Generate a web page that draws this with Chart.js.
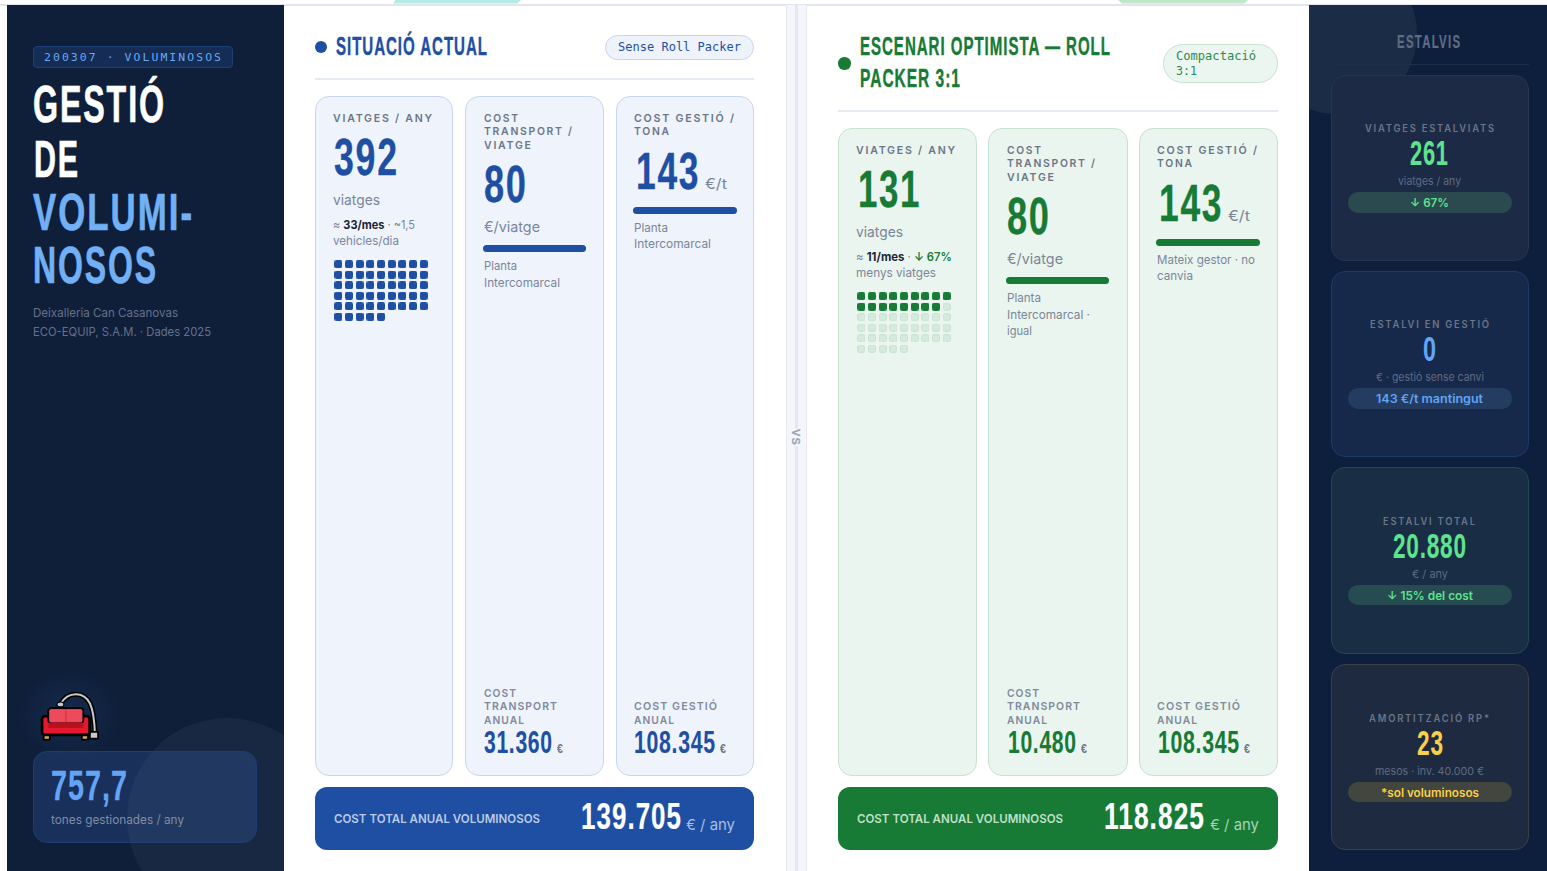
<!DOCTYPE html>
<html lang="ca">
<head>
<meta charset="utf-8">
<title>Gestió de voluminosos</title>
<script src="https://cdn.jsdelivr.net/npm/chart.js@4"></script>
<style>
  @font-face {
    font-family: "Cond";
    src: local("Liberation Sans Narrow Bold"), local("LiberationSansNarrow-Bold");
    font-weight: 700;
    ascent-override: 75%;
    descent-override: 5%;
    line-gap-override: 0%;
  }
  html, body { margin: 0; padding: 0; background: #fff; overflow: hidden; }
  #root { position: relative; width: 1547px; height: 871px; overflow: hidden; }
  .box { position: absolute; box-sizing: border-box; }
  .t { position: absolute; white-space: nowrap; line-height: 1; transform-origin: 0 0; }
  canvas { position: absolute; display: block; }
  canvas.pill { border-radius: 3.5px; }
  b { font-weight: 700; color: #1a2433; }
</style>
</head>
<body>
<div id="root"></div>
<script>
// dades
const trips = [392, 131];
const tripsPerMonth = [33, 11];
const transportPerTrip = [80, 80];
const managementPerTon = [143, 143];
const transportAnnual = [31360, 10480];
const managementAnnual = [108345, 108345];
const totalAnnual = [139705, 118825];
const tonsPerYear = '757,7';

// pictograma: files de caselles i caselles plenes per escenari
const waffleRows = [9, 9, 9, 9, 9, 5];
const waffleFilled = [50, 17];

const savedTrips = 261;
const savedManagement = 0;
const savedTotal = 20880;
const paybackMonths = 23;

const SANS = 'Inter, "DM Sans", sans-serif';
const NARROW = '"Cond", "Liberation Sans Narrow", sans-serif';
const MONO = '"DejaVu Sans Mono", monospace';

const root = document.getElementById('root');
const fmt = n => n.toLocaleString('de-DE');

// caixa absoluta
function box(x, y, w, h, css, parent) {
  const el = document.createElement('div');
  el.className = 'box';
  el.style.cssText = `left:${x}px;top:${y}px;width:${w}px;height:${h}px;${css || ''}`;
  (parent || root).appendChild(el);
  return el;
}

// text col·locat per la línia base, i ajustat a l'amplada w si se'n dona
function txt(x, base, html, o) {
  const el = document.createElement('div');
  el.className = 't';
  el.style.left = (o.f ? x : x - 0.5) + 'px';
  el.style.top = '0px';
  el.style.font = `${o.b || 400} ${o.s}px ${o.f || SANS}`;
  el.style.lineHeight = o.f === NARROW ? '0.8' : '1';
  el.style.color = o.c;
  if (o.ls) el.style.letterSpacing = o.ls + 'px';
  if (o.st) el.style.webkitTextStroke = `${o.st}px ${o.c}`;
  el.innerHTML = html;
  root.appendChild(el);

  const strut = document.createElement('span');
  strut.style.cssText = 'display:inline-block;width:0;height:0;vertical-align:baseline';
  el.appendChild(strut);
  el.style.top = (base - strut.getBoundingClientRect().bottom) + 'px';
  el.removeChild(strut);

  if (o.w) {
    const natural = el.getBoundingClientRect().width - (o.ls || 0);
    el.style.transform = `scaleX(${o.w / natural})`;
  }
  return el;
}

function canvasAt(x, y, w, h) {
  const c = document.createElement('canvas');
  c.width = w;
  c.height = h;
  c.style.left = x + 'px';
  c.style.top = y + 'px';
  root.appendChild(c);
  return c;
}

const baseOptions = {
  responsive: false,
  animation: false,
  events: [],
  layout: { padding: 0, autoPadding: false },
  plugins: { legend: { display: false }, tooltip: { enabled: false } }
};

// barra de progrés
function progressBar(x, y, w, h, label, value, max, color) {
  const c = canvasAt(x, y, w, h);
  c.className = 'pill';
  new Chart(c, {
    type: 'bar',
    data: {
      labels: [label],
      datasets: [{
        data: [value],
        backgroundColor: color,
        borderRadius: 3.5,
        borderSkipped: false,
        barPercentage: 1,
        categoryPercentage: 1
      }]
    },
    options: {
      ...baseOptions,
      indexAxis: 'y',
      scales: {
        x: { display: false, min: 0, max: max },
        y: { display: false }
      }
    }
  });
}

// casella del pictograma, com a imatge de punt
function cellSprite(fill, stroke) {
  const c = document.createElement('canvas');
  c.width = 8;
  c.height = 8;
  const g = c.getContext('2d');
  g.beginPath();
  g.roundRect(stroke ? 0.5 : 0, stroke ? 0.5 : 0, stroke ? 7 : 8, stroke ? 7 : 8, 2);
  g.fillStyle = fill;
  g.fill();
  if (stroke) {
    g.strokeStyle = stroke;
    g.stroke();
  }
  return c;
}

// pictograma de viatges
function waffle(x, y, filled, color, emptyFill, emptyBorder) {
  const on = [], off = [];
  let n = 0;
  waffleRows.forEach((cols, row) => {
    for (let col = 0; col < cols; col++) {
      (n < filled ? on : off).push({ x: col, y: row });
      n++;
    }
  });
  new Chart(canvasAt(x, y, 96, 63), {
    type: 'scatter',
    data: {
      datasets: [
        { data: on, pointStyle: cellSprite(color), pointRadius: 5 },
        { data: off, pointStyle: cellSprite(emptyFill, emptyBorder), pointRadius: 5 }
      ]
    },
    options: {
      ...baseOptions,
      scales: {
        x: { display: false, min: -0.5, max: 8.5 },
        y: { display: false, min: -0.5, max: 5.5, reverse: true }
      }
    }
  });
}

const themes = [
  { main: '#1e4fa3', card: '#eef3fc', line: '#c8d6ee', pill: '#eef3fb', pillLine: '#c5d5ee', pillText: '#1e4fa3', soft: '#b9cbe9', unit: '#a9bddf', empty: '#d6ebdd', emptyLine: '#c4e2cf' },
  { main: '#177a35', card: '#eaf5ef', line: '#c6e3d0', pill: '#ecf6f0', pillLine: '#c5e4cf', pillText: '#2a8a4a', soft: '#bfe0c8', unit: '#a8d2b4', empty: '#d6ebdd', emptyLine: '#c4e2cf' }
];

const GREY = '#6b7688', UNIT = '#7a8699';

function label(x, base, text, w) {
  txt(x, base - 0.7, text, { s: 11, b: 600, c: GREY, ls: 1.8, w: w });
}

function scenario(i, dx, dy) {
  const th = themes[i];
  const cardX = [[315, 138], [465, 139], [616, 138]];
  const topY = 96 + dy;
  cardX.forEach(([x, w]) => {
    box(x + dx, topY, w + i, 776 - topY, `background:${th.card};border:1px solid ${th.line};border-radius:14px`);
  });

  const big = { f: NARROW, b: 700, s: 52, c: th.main, st: 0.3, ls: 2.5 };
  const mid = { f: NARROW, b: 700, s: 31, c: th.main, st: 0.1, ls: 1 };
  const eur = { f: NARROW, b: 700, s: 12, c: GREY };
  const unit = { s: 14.5, c: UNIT };
  const note = { s: 12, c: UNIT };

  // targeta 1
  label(333 + dx, 122.5 + dy, 'VIATGES / ANY', 99);
  txt(i ? 857.5 : 334, 174.5 + dy, String(trips[i]), { ...big, w: i ? 61.5 : 63 });
  txt(333 + dx, 204.5 + dy, 'viatges', { ...unit, w: 47 });
  if (i === 0) {
    txt(333, 229, `≈ <b>${tripsPerMonth[i]}/mes</b> · ~1,5`, { ...note, w: 82 });
    txt(333, 245, 'vehicles/dia', { ...note, w: 66 });
  } else {
    txt(856, 260.5, `≈ <b>${tripsPerMonth[i]}/mes</b> · <span style="color:#177a35;font-weight:600">↓ 67%</span>`, { ...note, w: 96 });
    txt(856, 276.5, 'menys viatges', { ...note, w: 80 });
  }
  waffle(333 + dx, 259 + dy, waffleFilled[i], th.main, th.empty, th.emptyLine);

  // targeta 2
  label(484 + dx, 122.5 + dy, 'COST', 34);
  label(484 + dx, 136 + dy, 'TRANSPORT /', 88);
  label(484 + dx, 149.5 + dy, 'VIATGE', 47);
  txt(484 + dx, 201.5 + dy, String(transportPerTrip[i]), { ...big, w: 42 });
  txt(484 + dx, 232 + dy, '€/viatge', { ...unit, w: 56 });
  progressBar(483 + dx, 245 + dy, 103, 7, 'Cost transport / viatge', transportPerTrip[i], 80, th.main);
  const notes2 = i ? ['Planta', 'Intercomarcal ·', 'igual'] : ['Planta', 'Intercomarcal'];
  const w2 = i ? [34, 83, 25] : [33, 76];
  notes2.forEach((s, k) => txt(484 + dx, 270 + k * 16.5 + dy, s, { ...note, w: w2[k] }));

  // targeta 3
  label(634 + dx, 122.5 + dy, 'COST GESTIÓ /', 100);
  label(634 + dx, 136 + dy, 'TONA', 35);
  txt(635.5 + dx, 188.5 + dy, String(managementPerTon[i]), { ...big, w: 62.5 });
  txt(705 + dx, 189 + dy, '€/t', { ...unit, w: 22 });
  progressBar(633 + dx, 207 + dy, 104, 7, 'Cost gestió / tona', managementPerTon[i], 143, th.main);
  const notes3 = i ? ['Mateix gestor · no', 'canvia'] : ['Planta', 'Intercomarcal'];
  const w3 = i ? [98, 36] : [34, 77];
  notes3.forEach((s, k) => txt(634 + dx, 231.5 + k * 16.2 + dy, s, { ...note, w: w3[k] }));

  // peus de targeta
  const small = { s: 11, b: 600, c: '#7f8a9c', ls: 1.1 };
  txt(484 + dx, 696.7, 'COST', { ...small, w: 32 });
  txt(484 + dx, 710.2, 'TRANSPORT', { ...small, w: 73 });
  txt(484 + dx, 723.7, 'ANUAL', { ...small, w: 40 });
  txt(484 + dx + i, 752.5, fmt(transportAnnual[i]), { ...mid, w: 68 });
  txt(557 + dx + i, 752.5, '€', { ...eur, w: 6 });
  txt(634 + dx, 710.2, 'COST GESTIÓ', { ...small, w: 83 });
  txt(634 + dx, 723.7, 'ANUAL', { ...small, w: 40 });
  txt(634 + dx + i, 752.5, fmt(managementAnnual[i]), { ...mid, w: 81 });
  txt(720 + dx + i, 752.5, '€', { ...eur, w: 6 });

  // total
  box(315 + dx, 787, 439 + i, 63, `background:${th.main};border-radius:12px`);
  txt(334 + dx, 823, 'COST TOTAL ANUAL VOLUMINOSOS', { s: 12, b: 600, c: th.soft, w: 206 });
  txt(i ? 1104 : 580.5, 829, fmt(totalAnnual[i]), { f: NARROW, b: 700, s: 37, c: '#ffffff', w: 100, st: 0.2, ls: 1.5 });
  txt(i ? 1210 : 686, 830, '€ / any', { s: 15, c: th.unit, w: 49 });
}

function saving(y, h, bg, line, title, titleX, titleW, value, valueX, valueW, color, sub, subX, subW, pillBg, pill, pillX, pillW) {
  box(1331, y, 198, h, `background:${bg};border:1px solid ${line};border-radius:14px`);
  txt(titleX, y + 57.5, title, { s: 10, b: 600, c: '#6a7589', ls: 1.9, w: titleW });
  txt(valueX, y + 90.5, value, { f: NARROW, b: 700, s: 35, c: color, w: valueW, st: 0.1, ls: 1.2 });
  txt(subX, y + 110.5, sub, { s: 11, c: '#5e6b83', w: subW });
  box(1348, y + 117.5, 164, 20.5, `background:${pillBg};border-radius:10px`);
  txt(pillX, y + 132.5, pill, { s: 11.5, b: 600, c: color, w: pillW });
}

function render() {
  // fons
  box(0, 4, 1547, 1.5, 'background:#e4e4f0');
  box(393, 0, 128, 3.5, 'background:#b3ebe3;clip-path:polygon(0 100%,2% 0,100% 0,97% 100%)');
  box(1118, 0, 130, 3.5, 'background:#c0e6c8;clip-path:polygon(0 0,100% 0,97% 100%,3% 100%)');

  // panell esquerre
  const left = box(7, 5, 277, 866, 'background:#0f1f3a;overflow:hidden');
  box(120, 713, 200, 200, 'border-radius:50%;background:rgba(255,255,255,0.045)', left);
  box(10, 665, 105, 90, 'background:radial-gradient(closest-side,rgba(60,120,210,0.13),rgba(60,120,210,0))', left);

  box(33, 45.5, 200, 22.5, 'background:#152c55;border:1px solid #1d3f78;border-radius:4px');
  txt(43.5, 61, '200307 · VOLUMINOSOS', { f: MONO, s: 11, c: '#6aa8f0', w: 177, ls: 2 });
  const titleFont = { f: NARROW, b: 700, s: 52, st: 0.7, ls: 3 };
  txt(33, 122, 'GESTIÓ', { ...titleFont, c: '#ffffff', w: 131 });
  txt(34, 177, 'DE', { ...titleFont, c: '#ffffff', w: 44 });
  txt(33, 230, 'VOLUMI-', { ...titleFont, c: '#72b0f6', w: 159 });
  txt(33, 283, 'NOSOS', { ...titleFont, c: '#72b0f6', w: 123 });
  txt(33, 317, 'Deixalleria Can Casanovas', { s: 12, c: '#65718a', w: 145 });
  txt(33, 336, 'ECO-EQUIP, S.A.M. · Dades 2025', { s: 12, c: '#65718a', w: 178 });

  const sofa = document.createElement('div');
  sofa.className = 'box';
  sofa.style.cssText = 'left:33.3px;top:690px;width:67px;height:52px';
  sofa.innerHTML = `<svg width="67" height="52" viewBox="100 60 200 155">
    <path d="M182 102 C205 62 252 64 270 100 C282 125 284 160 285 195" fill="none" stroke="#000" stroke-width="15"/>
    <path d="M182 102 C205 62 252 64 270 100 C282 125 284 160 285 195" fill="none" stroke="#c9c9c9" stroke-width="6"/>
    <ellipse cx="182" cy="103" rx="10" ry="7" fill="#c9c9c9" stroke="#000" stroke-width="3"/>
    <rect x="270" y="185" width="24" height="20" fill="#c9c9c9" stroke="#000" stroke-width="5"/>
    <rect x="132" y="186" width="18" height="22" fill="#d8a860" stroke="#000" stroke-width="5"/>
    <rect x="246" y="186" width="18" height="22" fill="#d8a860" stroke="#000" stroke-width="5"/>
    <rect x="127" y="138" width="142" height="56" rx="9" fill="#e6182e" stroke="#000" stroke-width="8"/>
    <rect x="146" y="114" width="104" height="44" rx="8" fill="#ef4a5c" stroke="#000" stroke-width="6"/>
    <rect x="149" y="117" width="98" height="40" rx="6" fill="#ef4a5c"/>
    <rect x="197" y="117" width="2.5" height="40" fill="#c22a3a"/>
    <rect x="146" y="157" width="104" height="16" fill="#b8101f"/>
  </svg>`;
  root.appendChild(sofa);

  box(33, 751, 224, 92, 'background:rgba(64,120,225,0.2);border:1px solid #1f3d70;border-radius:14px');
  txt(51, 800, tonsPerYear, { f: NARROW, b: 700, s: 42, c: '#63a4f5', w: 76, st: 0.3, ls: 1.5 });
  txt(51, 824, 'tones gestionades / any', { s: 12.5, c: '#7f8ca3', w: 133 });

  // separador central
  box(786, 5, 21, 866, 'background:#f4f6fb;border-left:1px solid #e6e9f2;border-right:1px solid #e6e9f2');
  box(795, 5, 2.5, 866, 'background:#e3e7f1');
  const vs = txt(787, 441, 'VS', { f: NARROW, b: 700, s: 11, c: '#9aa5b5', ls: 1, st: 0.2 });
  vs.style.background = '#f4f6fb';
  vs.style.transformOrigin = '50% 50%';
  vs.style.transform = 'rotate(90deg)';

  // capçaleres
  const heading = { f: NARROW, b: 700, s: 25, ls: 1.6, st: 0.4 };
  box(315, 41, 12, 12, `border-radius:50%;background:${themes[0].main}`);
  txt(336, 55, 'SITUACIÓ ACTUAL', { ...heading, c: themes[0].main, w: 151 });
  box(605, 35, 149, 25, `background:${themes[0].pill};border:1px solid ${themes[0].pillLine};border-radius:13px`);
  txt(618, 51, 'Sense Roll Packer', { f: MONO, s: 12, c: themes[0].pillText, w: 123 });
  box(315, 78, 439, 1.5, 'background:#e6eaf2');

  box(838, 57, 12.5, 12.5, `border-radius:50%;background:${themes[1].main}`);
  txt(860, 55, 'ESCENARI OPTIMISTA — ROLL', { ...heading, c: themes[1].main, w: 250 });
  txt(860, 87, 'PACKER 3:1', { ...heading, c: themes[1].main, w: 100 });
  box(1163, 43.5, 115, 39.5, `background:${themes[1].pill};border:1px solid ${themes[1].pillLine};border-radius:20px`);
  txt(1176, 60, 'Compactació', { f: MONO, s: 12, c: themes[1].pillText, w: 80 });
  txt(1176, 75, '3:1', { f: MONO, s: 12, c: themes[1].pillText, w: 21 });
  box(838, 110, 440, 1.5, 'background:#e6eaf2');

  scenario(0, 0, 0);
  scenario(1, 523, 32);

  // panell dret
  const right = box(1309, 5, 238, 866, 'background:#0d1f3c;overflow:hidden');
  box(-52, -51, 160, 160, 'border-radius:50%;background:rgba(255,255,255,0.06)', right);
  txt(1397, 48, 'ESTALVIS', { f: NARROW, b: 700, s: 18, c: '#5f6c85', ls: 2, w: 63, st: 0.2 });
  box(1331, 64, 198, 1, 'background:#1e2f4c');

  saving(74.5, 186.5, '#1c2a45', '#26354f', 'VIATGES ESTALVIATS', 1365, 129, String(savedTrips), 1410, 38, '#5fe38f', 'viatges / any', 1398, 63, '#2a4a50', '↓ 67%', 1410, 39);
  saving(270.5, 186.5, '#17294a', '#1f3a66', 'ESTALVI EN GESTIÓ', 1370, 119, String(savedManagement), 1423, 13, '#62a4f5', '€ · gestió sense canvi', 1376, 108, '#243c60', `${managementPerTon[0]} €/t mantingut`, 1376, 107);
  saving(467, 187, '#192d45', '#234a52', 'ESTALVI TOTAL', 1383, 92, fmt(savedTotal), 1393, 73, '#5fe38f', '€ / any', 1412, 36, '#264b50', '↓ 15% del cost', 1387, 86);
  saving(664, 186, '#1e2a3f', '#3a3f45', 'AMORTITZACIÓ RP*', 1369, 120, String(paybackMonths), 1417, 26, '#f8d04a', 'mesos · inv. 40.000 €', 1375, 109, '#43453f', '*sol voluminosos', 1381, 98);
}

document.fonts.load('700 20px "Cond"').then(render, render);
</script>
</body>
</html>
